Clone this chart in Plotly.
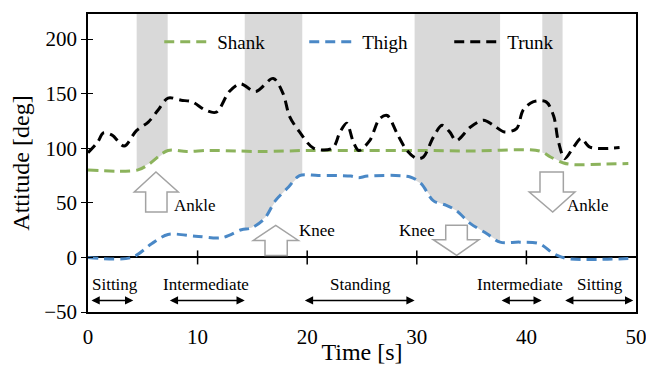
import numpy as np
import plotly.graph_objects as go

# ---------------- data ----------------
t_trunk = [0, 0.9, 1.4, 2.2, 3.3, 4.4, 5.5, 6.4, 7.3, 8.5, 9.5, 10.7, 11.7, 12.9, 13.9,
           15.3, 16.9, 17.8, 18.4, 19.3, 20.6, 22.3, 23.0, 23.6, 24.2, 24.7, 25.7, 26.6,
           27.3, 28.2, 29.1, 30.0, 30.6, 31.5, 32.3, 33.0, 33.6, 34.9, 36.1, 37.0, 38.0,
           39.1, 39.7, 40.6, 41.8, 42.5, 42.9, 43.5, 44.3, 45.0, 45.8, 48.5]
trunk = [96, 106, 114, 112, 102, 116, 124, 135, 146, 144, 142.5, 135, 133, 152, 159,
         152, 164, 150, 129, 115, 100, 100, 115, 123, 106, 98, 107, 127,
         130, 113.5, 98, 90.5, 92, 110, 121, 115, 107, 119.5, 125.7, 121, 115,
         118, 135, 142.5, 142.5, 129, 107, 90.5, 101, 109, 101, 100.6]

t_shank = [0, 4.5, 5.5, 7.3, 9.0, 11.0, 13.5, 16.0, 20, 25, 30, 35, 41.2, 42.2, 43.4, 44.3, 47, 49.3]
shank = [80, 80, 85, 98, 97, 98, 97.5, 97, 98, 98, 98, 97.5, 97.5, 92, 86.5, 85, 85.5, 86]

t_thigh = [0, 4.0, 5.8, 7.3, 9.8, 12.2, 14.0, 14.9, 16.1, 17.1, 18.3, 19.3, 21.0, 24.0,
           24.7, 25.5, 29.4, 30.4, 31.5, 32.7, 33.6, 34.9, 36.4, 37.6, 39.4, 41.2, 42.5,
           43.7, 49.3]
thigh = [0, 0, 12.5, 21, 19.5, 18, 25.4, 27, 35.5, 52, 64.5, 75, 75, 74.5,
         73, 74.5, 73.7, 67.6, 52, 47.7, 43, 31, 21.7, 14, 14, 12.5, 3.4,
         -1, -1]

band_start = [4.44, 14.3, 29.8, 41.45]
band_end = [7.27, 19.55, 37.6, 43.3]
band_curve = ["Shank", "Thigh", "Thigh", "Shank"]

phase_names = ["Sitting", "Intermediate", "Standing", "Intermediate", "Sitting"]
phase_start = [0.18, 7.33, 19.65, 37.6, 43.4]
phase_end = [4.13, 14.3, 29.8, 41.4, 49.75]
phase_label_x = [2.5, 10.8, 24.9, 39.4, 46.7]

x_ticks = [0, 10, 20, 30, 40, 50]
y_ticks = [-50, 0, 50, 100, 150, 200]

# ---------------- styling ----------------
FONT = "Liberation Serif"
Y_TOP = 223
GREEN = "#8cb35c"
BLUE = "#4a88c6"
BLACK = "#000000"
GRAY_BAND = "#d9d9d9"
ARROW_GRAY = "#a3a3a3"

curves = {"Shank": (t_shank, shank), "Thigh": (t_thigh, thigh)}

fig = go.Figure()

# shaded bands (from top down to the curve)
for s, e, c in zip(band_start, band_end, band_curve):
    tc, vc = curves[c]
    xs = np.linspace(s, e, 40)
    ys = np.interp(xs, tc, vc)
    fig.add_trace(go.Scatter(
        x=list(xs) + [e, s], y=list(ys) + [Y_TOP, Y_TOP],
        fill="toself", fillcolor=GRAY_BAND, line=dict(width=0),
        mode="lines", showlegend=False, hoverinfo="skip"))

# curves
for name, tt, vv, col in [("Shank", t_shank, shank, GREEN),
                          ("Thigh", t_thigh, thigh, BLUE),
                          ("Trunk", t_trunk, trunk, BLACK)]:
    fig.add_trace(go.Scatter(
        x=tt, y=vv, name=name, mode="lines",
        line=dict(color=col, width=3, dash="10px,6px", shape="spline", smoothing=0.9)))

# tick marks on the zero line
fig.add_trace(go.Scatter(
    x=x_ticks[1:-1], y=[0] * (len(x_ticks) - 2), mode="markers",
    marker=dict(symbol="line-ns", size=10, line=dict(color="black", width=1.5)),
    showlegend=False, hoverinfo="skip"))

# invisible trace for the secondary (inside-tick) y axis
fig.add_trace(go.Scatter(x=[0], y=[0], yaxis="y2", mode="markers",
                         marker=dict(opacity=0), showlegend=False, hoverinfo="skip"))

# block arrows (outline)
def block_arrow(tip, head_y, shaft_l, shaft_r, head_l, head_r, end_y):
    tx, ty = tip
    return (f"M {shaft_l} {end_y} L {shaft_l} {head_y} L {head_l} {head_y} L {tx} {ty} "
            f"L {head_r} {head_y} L {shaft_r} {head_y} L {shaft_r} {end_y} Z")

arrows = [
    block_arrow((6.2, 78.3), 59.9, 5.26, 7.21, 4.22, 8.24, 41.6),     # ankle up
    block_arrow((17.13, 29.4), 15.6, 16.15, 18.18, 15.08, 19.19, 1.8),  # knee up
    block_arrow((33.64, 1.8), 16.2, 32.64, 34.61, 31.5, 35.67, 29.4),   # knee down
    block_arrow((42.4, 41.6), 59.9, 41.24, 43.37, 40.26, 44.43, 78.3),  # ankle down
]
for p in arrows:
    fig.add_shape(type="path", path=p, xref="x", yref="y",
                  line=dict(color=ARROW_GRAY, width=1.5), fillcolor="white", layer="above")

annotations = []
for txt, x, y, anchor in [("Ankle", 7.64, 47.7, "left"), ("Knee", 19.04, 24.8, "left"),
                          ("Knee", 31.8, 24.8, "right"), ("Ankle", 43.52, 47.7, "left")]:
    annotations.append(dict(x=x, y=y, xref="x", yref="y", text=txt, showarrow=False,
                            xanchor=anchor, yanchor="middle",
                            font=dict(family=FONT, size=17, color="black")))

# phase labels and double arrows
for name, s, e, lx in zip(phase_names, phase_start, phase_end, phase_label_x):
    annotations.append(dict(x=lx, y=-24.8, xref="x", yref="y", text=name, showarrow=False,
                            xanchor="center", yanchor="middle",
                            font=dict(family=FONT, size=17, color="black")))
    annotations.append(dict(x=e, y=-39.4, ax=s, ay=-39.4, xref="x", yref="y",
                            axref="x", ayref="y", text="", showarrow=True,
                            arrowhead=2, startarrowhead=2, arrowside="end+start",
                            arrowsize=1.1, startarrowsize=1.1,
                            arrowwidth=1.5, arrowcolor="black"))

fig.update_layout(
    width=646, height=365,
    margin=dict(l=88, r=10, t=14, b=53),
    paper_bgcolor="white", plot_bgcolor="white",
    font=dict(family=FONT, size=21, color="black"),
    showlegend=True,
    legend=dict(orientation="h", x=0.13, y=0.906, xanchor="left", yanchor="middle",
                bgcolor="rgba(0,0,0,0)", font=dict(family=FONT, size=19),
                entrywidth=82, entrywidthmode="pixels", itemwidth=48,
                traceorder="normal"),
    annotations=annotations,
    xaxis=dict(range=[0, 50], tickvals=x_ticks, showgrid=False, zeroline=False,
               showline=True, linecolor="black", linewidth=1.5, mirror=True,
               ticks="outside", ticklen=5, tickcolor="rgba(0,0,0,0)",
               tickfont=dict(family=FONT, size=21), automargin=False,
               ticklabeloverflow="allow",
               title=dict(text="Time [s]", font=dict(family=FONT, size=24), standoff=1)),
    yaxis=dict(range=[-50, Y_TOP], tickvals=y_ticks, showgrid=False,
               zeroline=True, zerolinecolor="black", zerolinewidth=2,
               showline=True, linecolor="black", linewidth=1.5, mirror=True,
               ticks="outside", ticklen=5, tickcolor="black", tickwidth=1.2,
               tickfont=dict(family=FONT, size=21), automargin=False,
               title=dict(text="Attitude [deg]", font=dict(family=FONT, size=24), standoff=8)),
    yaxis2=dict(range=[-50, Y_TOP], tickvals=y_ticks, overlaying="y", anchor="x",
                side="left", showgrid=False, zeroline=False, showticklabels=False,
                ticks="inside", ticklen=5, tickcolor="black", tickwidth=1.2,
                automargin=False),
)

fig.write_html("out.html", config={"displayModeBar": False},
               post_script="document.body.style.margin='0px';document.body.style.overflow='hidden';")
